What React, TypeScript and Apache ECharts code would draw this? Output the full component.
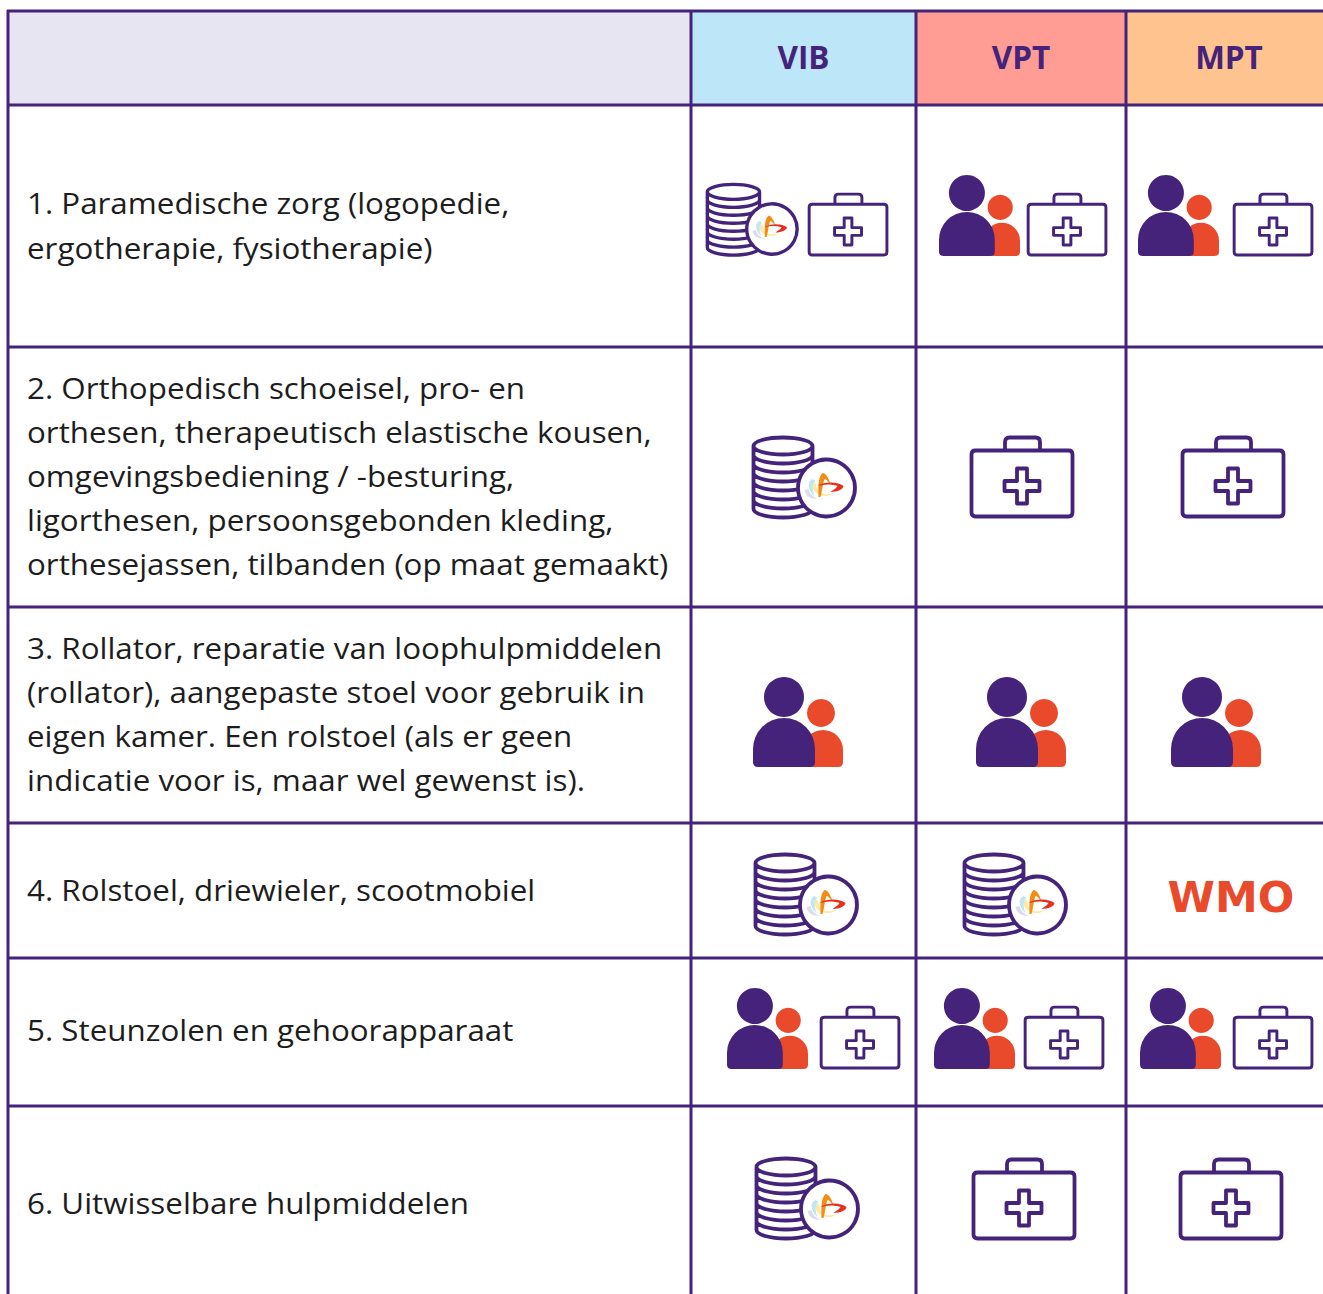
import React, { useEffect, useRef } from "react";
import * as echarts from "echarts";

const columns = ["VIB", "VPT", "MPT"];
const rowLines = [
  ["1. Paramedische zorg (logopedie,", "ergotherapie, fysiotherapie)"],
  ["2. Orthopedisch schoeisel, pro- en", "orthesen, therapeutisch elastische kousen,", "omgevingsbediening / -besturing,", "ligorthesen, persoonsgebonden kleding,", "orthesejassen, tilbanden (op maat gemaakt)"],
  ["3. Rollator, reparatie van loophulpmiddelen", "(rollator), aangepaste stoel voor gebruik in", "eigen kamer. Een rolstoel (als er geen", "indicatie voor is, maar wel gewenst is)."],
  ["4. Rolstoel, driewieler, scootmobiel"],
  ["5. Steunzolen en gehoorapparaat"],
  ["6. Uitwisselbare hulpmiddelen"],
];

// Layout
const colX = [8, 691, 916, 1126];
const rowY = [11, 105, 347, 607, 823, 958, 1106];
const W = 1323, H = 1294;
const PURPLE = "#45237a";
const ORANGE = "#ea4a2c";
const headFills = ["#e8e5f3", "#bee6f9", "#ff9c94", "#ffc38f"];
const headCx = [803.5, 1021, 1229];
const lineCy = [[203, 248], [388, 432, 476, 520, 564], [648, 692, 736, 780], [890], [1030], [1203]];
const TEXT_FONT = "Open Sans";
const TEXT_SIZE = 30;
const TEXT_SX = 1.045;

// Icon placement: [kind, left, top, scale] per table cell.
type P = [string, number, number, number];
const placed: P[] = [
  ["coins", 706, 183, 0.885], ["kit", 808, 193, 0.77],
  ["person", 939, 175, 0.9], ["kit", 1027, 193, 0.77],
  ["person", 1138, 175, 0.9], ["kit", 1233, 193, 0.77],
  ["coins", 752, 436, 1], ["kit", 970, 436, 1], ["kit", 1181, 436, 1],
  ["person", 753, 677, 1], ["person", 976, 677, 1], ["person", 1171, 677, 1],
  ["coins", 754, 853, 1], ["coins", 963, 853, 1],
  ["person", 727, 988, 0.9], ["kit", 820, 1006, 0.77],
  ["person", 934, 988, 0.9], ["kit", 1024, 1006, 0.77],
  ["person", 1140, 988, 0.9], ["kit", 1233, 1006, 0.77],
  ["coins", 755, 1157, 1], ["kit", 972, 1158, 1], ["kit", 1179, 1158, 1],
];

const reg = (name: string, d: string) =>
  echarts.graphic.registerShape(name, (echarts.graphic as any).extendPath(d, {}));

reg("kitPath", "M5.5 14.5 H98.5 Q102.5 14.5 102.5 18.5 V76.5 Q102.5 80.5 98.5 80.5 H5.5 Q1.5 80.5 1.5 76.5 V18.5 Q1.5 14.5 5.5 14.5 Z M35 14 V6 Q35 1.5 39.5 1.5 H65.5 Q70 1.5 70 6 V14 M47 32.5 H57 V45 H69.5 V55 H57 V67.5 H47 V55 H34.5 V45 H47 Z");
reg("stackPath", "M1.5 10 A29.5 8.5 0 0 1 60.5 10 A29.5 8.5 0 0 1 1.5 10 Z M1.5 10 V73 M60.5 10 V40 M1.5 19 A29.5 8.5 0 0 0 60.5 19 M1.5 28 A29.5 8.5 0 0 0 60.5 28 M1.5 37 A29.5 8.5 0 0 0 60.5 37 M1.5 46 A29.5 8.5 0 0 0 60.5 46 M1.5 55 A29.5 8.5 0 0 0 60.5 55 M1.5 64 A29.5 8.5 0 0 0 60.5 64 M1.5 73 A29.5 8.5 0 0 0 60.5 73");
reg("bodyBig", "M5 90 Q0 90 0 85 V72 A31 31 0 0 1 62 72 V85 Q62 90 57 90 Z");
reg("bodySmall", "M50 90 V73 A19 19 0 0 1 90 73 V85 Q90 90 85 90 Z");
reg("logoOrange", "M-7 9 C-7 0 -8 -10 -3 -15 C1 -15 4 -8 5 -3 C3 -6 1 -9 -1 -9 C-3 -4 -3 2 -5 9 Z");
reg("logoRed", "M-8 -2 C0 -7 13 -6 18 -2 C18 1 12 4 5 4 C9 1 11 0 12 -2 C6 -4 -1 -4 -8 -2 Z");
reg("logoYellow", "M-13 -4 C-14 2 -8 9 2 8 C6 7 8 6 9 5 C3 7 -4 7 -7 3 C-9 0 -9 -3 -10 -5 Z");
reg("logoBlue", "M-13 -9 C-20 -5 -16 4 -11 8 C-13 2 -14 -3 -10 -7 Z");
reg("logoLav", "M-21 2 C-20 8 -15 11 -8 11 C-12 9 -16 6 -17 1 Z");

const lw = (c: string) => ({ fill: "none", stroke: c, lineWidth: 3.8, lineJoin: "round", lineCap: "round" });

function icon([kind, x, y, s]: P) {
  let children: any[] = [];
  if (kind === "kit") {
    children = [{ type: "kitPath", style: lw(PURPLE) }];
  } else if (kind === "person") {
    children = [
      { type: "circle", shape: { cx: 68, cy: 36, r: 14 }, style: { fill: ORANGE } },
      { type: "bodySmall", style: { fill: ORANGE } },
      { type: "circle", shape: { cx: 31, cy: 20, r: 20 }, style: { fill: PURPLE } },
      { type: "bodyBig", style: { fill: PURPLE } },
    ];
  } else {
    children = [
      { type: "stackPath", style: lw(PURPLE) },
      { type: "circle", shape: { cx: 74.5, cy: 52, r: 28.5 }, style: { fill: "#fff", stroke: PURPLE, lineWidth: 3.8 } },
      {
        type: "group", x: 73.5, y: 52, children: [
          { type: "logoLav", style: { fill: "#dcdcee" } },
          { type: "logoBlue", style: { fill: "#bfe6f7" } },
          { type: "logoYellow", style: { fill: "#fde9a6" } },
          { type: "logoOrange", style: { fill: "#f28c12" } },
          { type: "logoRed", style: { fill: "#e5301f" } },
        ],
      },
    ];
  }
  return { type: "group", x, y, scaleX: s, scaleY: s, children };
}

function buildElements() {
  const els: any[] = [];
  const edges = [...colX, W];
  headFills.forEach((fill, i) => {
    els.push({ type: "rect", shape: { x: edges[i], y: rowY[0], width: edges[i + 1] - edges[i], height: rowY[1] - rowY[0] }, style: { fill } });
  });
  rowY.forEach((y) => els.push({ type: "line", shape: { x1: colX[0] - 1, y1: y, x2: W, y2: y }, style: { stroke: PURPLE, lineWidth: 3 } }));
  colX.forEach((x) => els.push({ type: "line", shape: { x1: x, y1: rowY[0] - 1, x2: x, y2: H }, style: { stroke: PURPLE, lineWidth: 3 } }));
  columns.forEach((t, i) => els.push({
    type: "text", x: headCx[i], y: 56,
    style: { text: t, fill: PURPLE, font: `bold 31.5px "Open Sans"`, align: "center", verticalAlign: "middle" },
  }));
  rowLines.forEach((lines, r) => lines.forEach((t, l) => els.push({
    type: "text", x: 27, y: lineCy[r][l] - 1, scaleX: TEXT_SX,
    style: { text: t, fill: "#1d1d1d", font: `${TEXT_SIZE}px "${TEXT_FONT}"`, align: "left", verticalAlign: "middle" },
  })));
  placed.forEach((p) => els.push(icon(p)));
  els.push({
    type: "text", x: 1231, y: 897,
    style: { text: "WMO", fill: ORANGE, font: `bold 43px "DejaVu Sans"`, align: "center", verticalAlign: "middle" },
  });
  return els;
}

export default function App() {
  const ref = useRef<HTMLDivElement>(null);
  useEffect(() => {
    const chart = echarts.init(ref.current!, undefined, { renderer: "svg" });
    chart.setOption({ animation: false, backgroundColor: "#fff", graphic: { elements: buildElements() } });
    return () => chart.dispose();
  }, []);
  return <div ref={ref} style={{ position: "absolute", left: 0, top: 0, width: W, height: H }} />;
}
